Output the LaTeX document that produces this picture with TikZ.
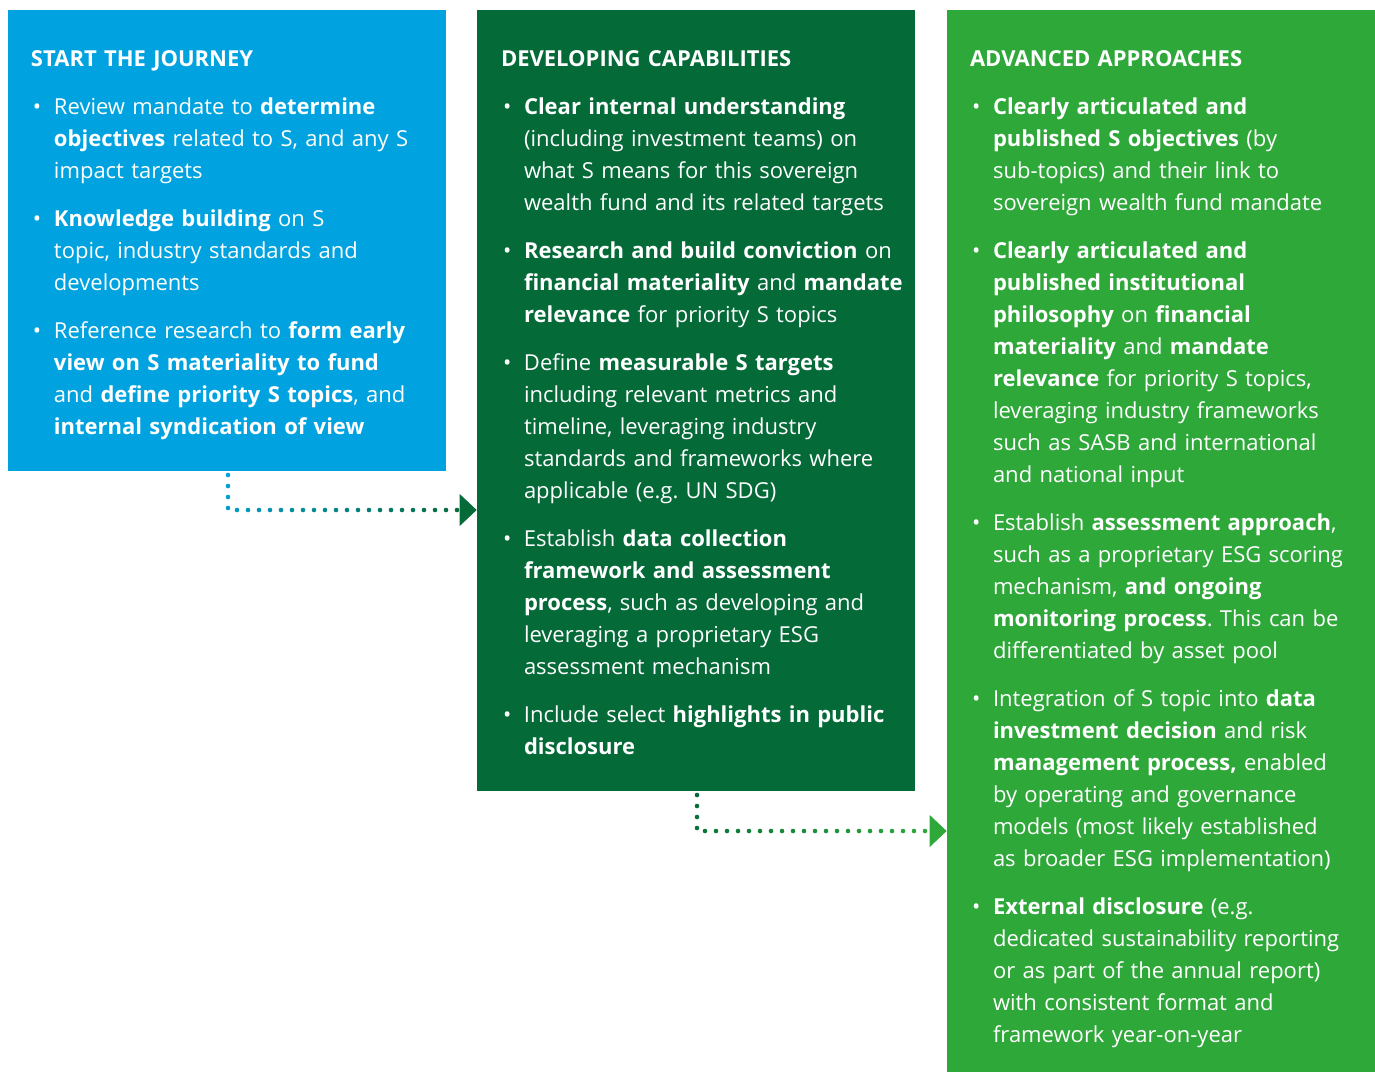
\documentclass[tikz,border=0pt]{standalone}
\usepackage{fontspec}
\setmainfont{Open Sans}
\usetikzlibrary{positioning, arrows.meta, fit, decorations.markings}

\definecolor{journeyBlue}{HTML}{00A3E0}
\definecolor{capGreen}{HTML}{046A38}
\definecolor{advGreen}{HTML}{2FA83A}

% bullet item inside a panel
\newcommand{\pitem}{\par\vspace{8pt}\noindent\hangindent=11.5pt\hangafter=1\makebox[11.5pt][l]{\hspace{1pt}\textbullet}}

\begin{document}
\frenchspacing
\begin{tikzpicture}[
        x=0.5pt, y=-0.5pt,
        panel/.style={rectangle, draw=none, inner sep=0pt},
        paneltext/.style={text=white, text width=202pt, align=left, inner sep=0pt,
          font=\fontsize{11pt}{16pt}\selectfont},
        dotflow/.style 2 args={decoration={markings,
            mark=between positions 0 and 1 step 5.5pt with {
              \pgfmathtruncatemacro\dotmix{100-100*\pgfkeysvalueof{/pgf/decoration/mark info/distance from start}/\pgfdecoratedpathlength}
              \fill[#1!\dotmix!#2] (0,0) circle (1.15pt);}},
          decorate},
        tipflow/.style={-{Triangle[length=8.5pt,width=16pt]}, line width=0.4pt, draw=#1}
      ]
        \useasboundingbox (0,0) rectangle (1375,1072);

        % panels
        \node[panel, fill=journeyBlue, fit={(8,10) (446,471)}] (start) {};
        \node[panel, fill=capGreen, fit={(477,10) (915,791)}] (develop) {};
        \node[panel, fill=advGreen, fit={(947,10) (1375,1072)}] (advanced) {};

        \node[paneltext, anchor=base west] (startText) at ([shift={(23,57)}]start.north west) {%
          \textbf{START THE JOURNEY}
          \pitem Review mandate to \textbf{determine}\newline \textbf{objectives} related to S, and any S\newline impact targets
          \pitem \textbf{Knowledge building} on S\newline topic, industry standards and\newline developments
          \pitem Reference research to \textbf{form early}\newline \textbf{view on S materiality to fund}\newline and \textbf{define priority S topics}, and\newline \textbf{internal syndication of view}\par};

        \node[paneltext, anchor=base west] (developText) at ([shift={(24,57)}]develop.north west) {%
          \textbf{DEVELOPING CAPABILITIES}
          \pitem \textbf{Clear internal understanding}\newline (including investment teams) on\newline what S means for this sovereign\newline wealth fund and its related targets
          \pitem \textbf{Research and build conviction} on\newline \textbf{financial materiality} and \textbf{mandate}\newline \textbf{relevance} for priority S topics
          \pitem Define \textbf{measurable S targets}\newline including relevant metrics and\newline timeline, leveraging industry\newline standards and frameworks where\newline applicable (e.g. UN SDG)
          \pitem Establish \textbf{data collection}\newline \textbf{framework and assessment}\newline \textbf{process}, such as developing and\newline leveraging a proprietary ESG\newline assessment mechanism
          \pitem Include select \textbf{highlights in public}\newline \textbf{disclosure}\par};

        \node[paneltext, anchor=base west] (advancedText) at ([shift={(23,57)}]advanced.north west) {%
          \textbf{ADVANCED APPROACHES}
          \pitem \textbf{Clearly articulated and}\newline \textbf{published S objectives} (by\newline sub-topics) and their link to\newline sovereign wealth fund mandate
          \pitem \textbf{Clearly articulated and}\newline \textbf{published institutional}\newline \textbf{philosophy} on \textbf{financial}\newline \textbf{materiality} and \textbf{mandate}\newline \textbf{relevance} for priority S topics,\newline leveraging industry frameworks\newline such as SASB and international\newline and national input
          \pitem Establish \textbf{assessment approach},\newline such as a proprietary ESG scoring\newline mechanism, \textbf{and ongoing}\newline \textbf{monitoring process}. This can be\newline differentiated by asset pool
          \pitem Integration of S topic into \textbf{data}\newline \textbf{investment decision} and risk\newline \textbf{management process,} enabled\newline by operating and governance\newline models (most likely established\newline as broader ESG implementation)
          \pitem \textbf{External disclosure} (e.g.\newline dedicated sustainability reporting\newline or as part of the annual report)\newline with consistent format and\newline framework year-on-year\par};

        % dotted connectors
        \coordinate (startDrop) at (228,475);
        \coordinate (developDrop) at (697,795);
        \path[dotflow={journeyBlue}{capGreen}] (startDrop) |- ([xshift=-8.5pt]develop.west |- 0,510);
        \draw[tipflow=capGreen] ([xshift=-8.5pt]develop.west |- 0,510) -- (develop.west |- 0,510);
        \path[dotflow={capGreen}{advGreen}] (developDrop) |- ([xshift=-8.5pt]advanced.west |- 0,831);
        \draw[tipflow=advGreen] ([xshift=-8.5pt]advanced.west |- 0,831) -- (advanced.west |- 0,831);
      \end{tikzpicture}
\end{document}
